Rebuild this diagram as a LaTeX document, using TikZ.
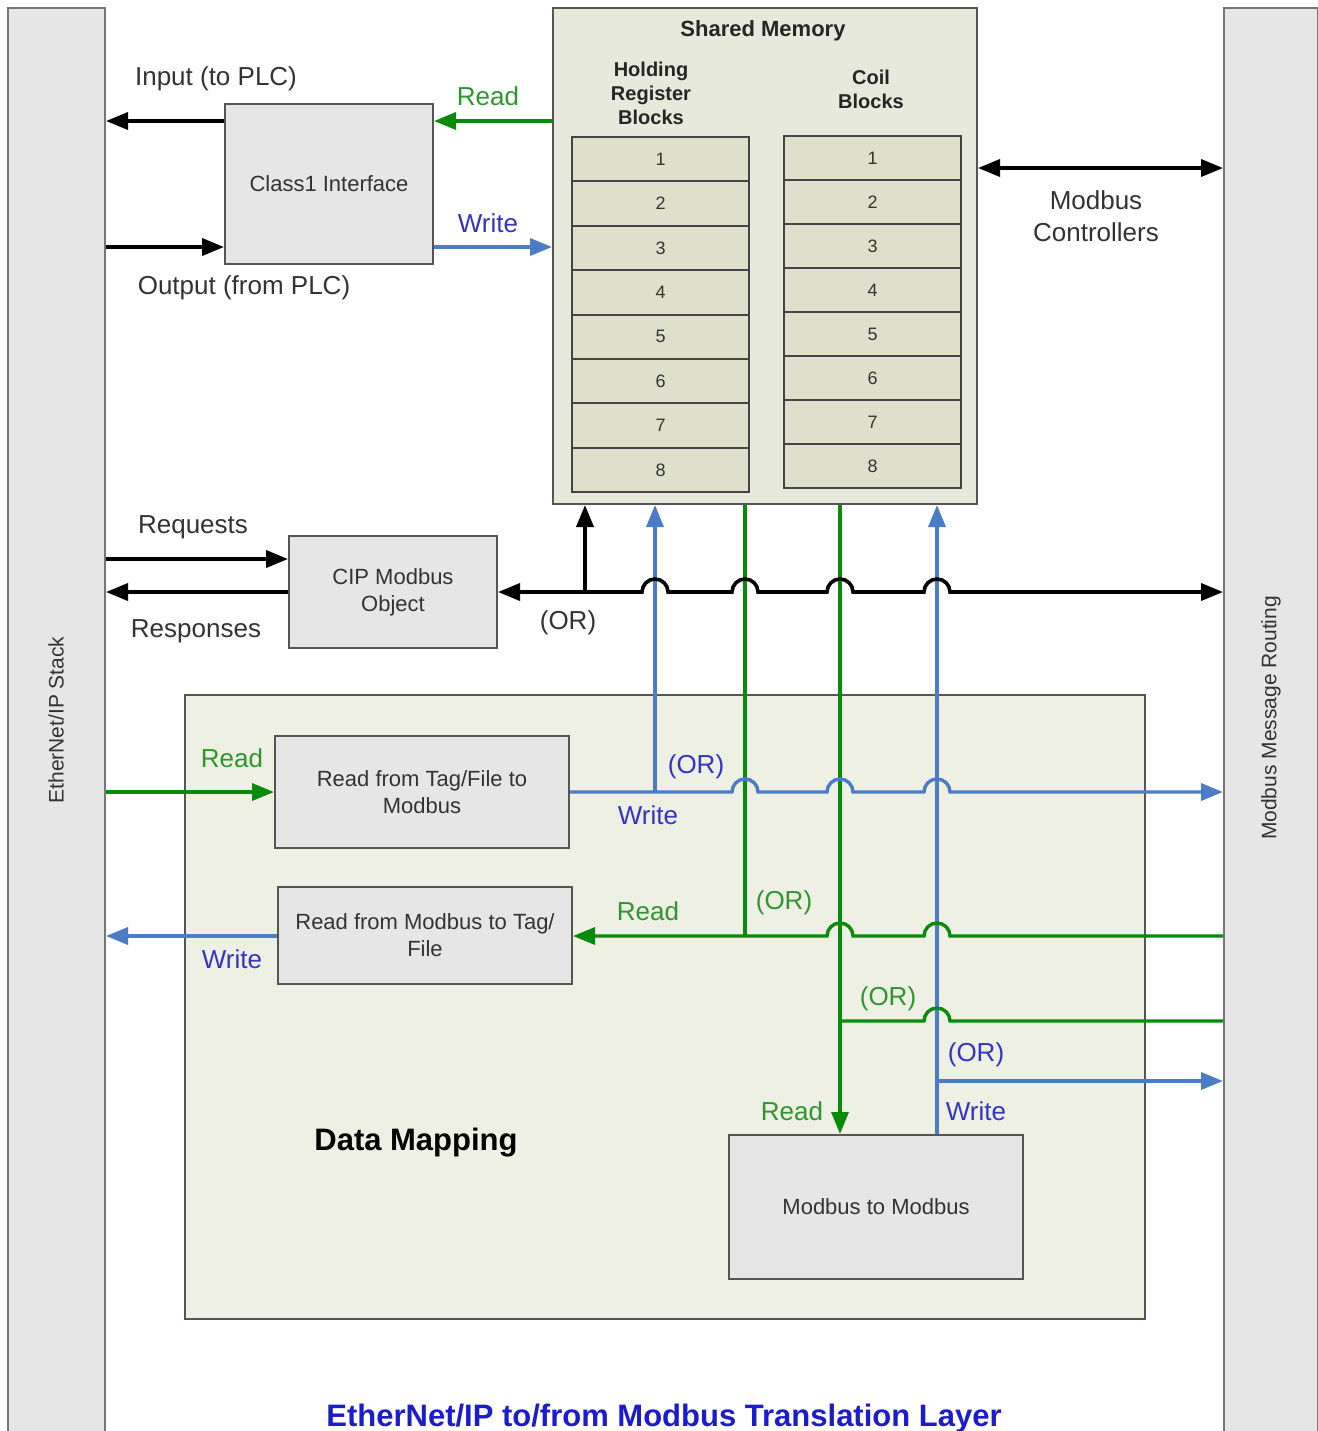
\documentclass[tikz,border=0pt]{standalone}
\usepackage{fontspec}
\setmainfont{Liberation Sans}
\usetikzlibrary{arrows.meta,calc}
\definecolor{barfill}{HTML}{E6E6E6}
\definecolor{boxfill}{HTML}{E6E6E6}
\definecolor{memfill}{HTML}{E7E9DA}
\definecolor{cellfill}{HTML}{DEE0CB}
\definecolor{mapfill}{HTML}{EEF0E3}
\definecolor{lgreen}{HTML}{0A8A0A}
\definecolor{lblue}{HTML}{4A7DC6}
\definecolor{tgreen}{HTML}{2F962F}
\definecolor{tblue}{HTML}{3333C6}
\definecolor{tgray}{HTML}{333333}
\definecolor{edge}{HTML}{555555}
\definecolor{baredge}{HTML}{777777}
\definecolor{titleblue}{HTML}{1C1CCC}
\begin{document}
\begin{tikzpicture}[x=0.5pt,y=-0.5pt,
  >={Triangle[length=11pt,width=8.5pt]},
  bar/.style={draw=baredge, line width=1pt, fill=barfill, inner sep=0},
  box/.style={draw=edge, line width=1pt, fill=boxfill, inner sep=0, align=center, text=tgray, font=\fontsize{11}{13.5}\selectfont},
  cellbox/.style={draw=edge!80!black, line width=1pt, fill=cellfill, inner sep=0, minimum width=88.5pt, text=tgray, font=\fontsize{9}{10}\selectfont},
  lbl/.style={inner sep=0, align=center, font=\fontsize{13}{16}\selectfont},
  hdr/.style={inner sep=0, align=center, text=black!85, font=\bfseries\fontsize{10}{12}\selectfont},
  vlbl/.style={inner sep=0, rotate=90, text=tgray, font=\fontsize{10.5}{12}\selectfont},
  blk/.style={line width=1.8pt, black},
  grn/.style={line width=1.7pt, lgreen},
  blu/.style={line width=1.7pt, lblue}]
\useasboundingbox (0,0) rectangle (1318,1431);
\clip (0,0) rectangle (1318,1431);
\fill[white] (0,0) rectangle (1318,1431);

% level coordinates
\coordinate (r1) at (0,121);
\coordinate (r2) at (0,247);
\coordinate (r9) at (0,168);
\coordinate (r3) at (0,559);
\coordinate (r4) at (0,592);
\coordinate (r5) at (0,792);
\coordinate (r6) at (0,936);
\coordinate (r7) at (0,1021);
\coordinate (r8) at (0,1081);
\coordinate (xa) at (585,0);
\coordinate (xb) at (655,0);
\coordinate (xc) at (745,0);
\coordinate (xd) at (840,0);
\coordinate (xe) at (937,0);

% side bars
\node[bar, minimum width=48.5pt, minimum height=720pt] (lbar) at (56.5,728) {};
\node[bar, minimum width=47pt, minimum height=720pt] (rbar) at (1271,728) {};
\node[vlbl] (lbartxt) at (56,720) {EtherNet/IP Stack};
\node[vlbl] (rbartxt) at (1271,718) {Modbus Message Routing};

% data mapping area
\node[draw=edge, line width=1pt, fill=mapfill, inner sep=0, minimum width=480pt, minimum height=312pt] (dmap) at (665,1007) {};
\node[inner sep=0, font=\bfseries\fontsize{15.5}{18}\selectfont] (dmaptxt) at (416,1143) {Data Mapping};

% shared memory
\node[draw=edge, line width=1pt, fill=memfill, inner sep=0, minimum width=212pt, minimum height=248pt] (smem) at (765,256) {};
\node[hdr, font=\bfseries\fontsize{11}{13}\selectfont] (smtitle) at (763,31) {Shared Memory};
\node[hdr] (hrb) at (651,93) {Holding\\Register\\Blocks};
\node[hdr] (cb) at (871,89) {Coil\\Blocks};
\foreach \i in {1,...,8} {
  \node[cellbox, minimum height=22.2pt] (h\i) at (660.5,{159.2+44.4*(\i-1)}) {\i};
  \node[cellbox, minimum height=22pt] (c\i) at (872.5,{158+44*(\i-1)}) {\i};
}

% boxes
\node[box, minimum width=104pt, minimum height=80pt] (class1) at (329,184) {Class1 Interface};
\node[box, minimum width=104pt, minimum height=56pt] (cip) at (393,592) {CIP Modbus\\Object};
\node[box, minimum width=147pt, minimum height=56pt] (rtf) at (422,792) {Read from Tag/File to\\Modbus};
\node[box, minimum width=147pt, minimum height=48.5pt] (rmt) at (425,935.5) {Read from Modbus to Tag/\\File};
\node[box, minimum width=147pt, minimum height=72pt] (m2m) at (876,1207) {Modbus to Modbus};

% top-left connectors
\draw[blk, ->] (class1.west |- r1) -- (lbar.east |- r1);
\draw[blk, ->] (lbar.east |- r2) -- (class1.west |- r2);
\draw[grn, ->] (smem.west |- r1) -- (class1.east |- r1);
\draw[blu, ->] (class1.east |- r2) -- (smem.west |- r2);
\draw[blk, <->] (smem.east |- r9) -- (rbar.west |- r9);

% CIP connectors
\draw[blk, ->] (lbar.east |- r3) -- (cip.west |- r3);
\draw[blk, ->] (cip.west |- r4) -- (lbar.east |- r4);

% verticals
\draw[blk, ->] (xa |- r4) -- (xa |- smem.south);
\draw[blu, ->] (xb |- r5) -- (xb |- smem.south);
\draw[blu, ->] (xe |- m2m.north) -- (xe |- smem.south);
\draw[grn] (xc |- smem.south) -- (xc |- r6);
\draw[grn, ->] (xd |- smem.south) -- (xd |- m2m.north);

% bus with hops
\draw[blk, <->] (cip.east |- r4)
  -- ($(xb |- r4)+(-13,0)$) arc[start angle=180, end angle=360, radius=13]
  -- ($(xc |- r4)+(-13,0)$) arc[start angle=180, end angle=360, radius=13]
  -- ($(xd |- r4)+(-13,0)$) arc[start angle=180, end angle=360, radius=13]
  -- ($(xe |- r4)+(-13,0)$) arc[start angle=180, end angle=360, radius=13]
  -- (rbar.west |- r4);

% data mapping connectors
\draw[grn, ->] (lbar.east |- r5) -- (rtf.west |- r5);
\draw[blu, ->] (rtf.east |- r5)
  -- ($(xc |- r5)+(-13,0)$) arc[start angle=180, end angle=360, radius=13]
  -- ($(xd |- r5)+(-13,0)$) arc[start angle=180, end angle=360, radius=13]
  -- ($(xe |- r5)+(-13,0)$) arc[start angle=180, end angle=360, radius=13]
  -- (rbar.west |- r5);
\draw[blu, ->] (rmt.west |- r6) -- (lbar.east |- r6);
\draw[grn, ->] (rbar.west |- r6)
  -- ($(xe |- r6)+(13,0)$) arc[start angle=360, end angle=180, radius=13]
  -- ($(xd |- r6)+(13,0)$) arc[start angle=360, end angle=180, radius=13]
  -- (rmt.east |- r6);
\draw[grn] (xd |- r7)
  -- ($(xe |- r7)+(-13,0)$) arc[start angle=180, end angle=360, radius=13]
  -- (rbar.west |- r7);
\draw[blu, ->] (xe |- r8) -- (rbar.west |- r8);

% labels
\node[lbl, text=tgray] (tin) at (216,79) {Input (to PLC)};
\node[lbl, text=tgray] (tout) at (244,288) {Output (from PLC)};
\node[lbl, text=tgreen] (tread1) at (488,96) {Read};
\node[lbl, text=tblue] (twrite1) at (488,223) {Write};
\node[lbl, text=tgray] (tmc) at (1096,216) {Modbus\\Controllers};
\node[lbl, text=tgray] (treq) at (193,527) {Requests};
\node[lbl, text=tgray] (tresp) at (196,631) {Responses};
\node[lbl, text=tgray] (tor1) at (568,623) {(OR)};
\node[lbl, text=tgreen] (tread2) at (232,758) {Read};
\node[lbl, text=tblue] (tor2) at (696,767) {(OR)};
\node[lbl, text=tblue] (twrite2) at (648,815) {Write};
\node[lbl, text=tgreen] (tread3) at (648,911) {Read};
\node[lbl, text=tgreen] (tor3) at (784,903) {(OR)};
\node[lbl, text=tblue] (twrite3) at (232,959) {Write};
\node[lbl, text=tgreen] (tor4) at (888,999) {(OR)};
\node[lbl, text=tblue] (tor5) at (976,1055) {(OR)};
\node[lbl, text=tblue] (twrite4) at (976,1111) {Write};
\node[lbl, text=tgreen] (tread4) at (792,1111) {Read};

% title
\node[inner sep=0, text=titleblue, font=\bfseries\fontsize{15.5}{18}\selectfont] (title) at (664,1418) {EtherNet/IP to/from Modbus Translation Layer};
\end{tikzpicture}
\end{document}
